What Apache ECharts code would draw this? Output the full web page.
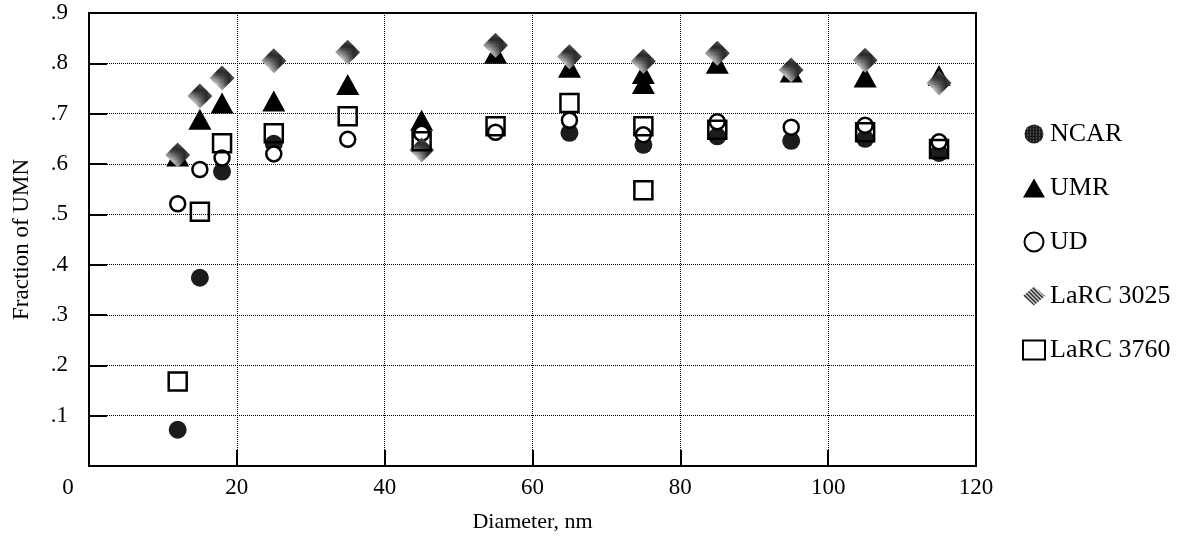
<!DOCTYPE html>
<html>
<head>
<meta charset="utf-8">
<script src="https://cdn.jsdelivr.net/npm/echarts@6/dist/echarts.min.js"></script>
<style>
  html, body { margin: 0; padding: 0; background: #fff; }
  #main { width: 1185px; height: 538px; }
</style>
</head>
<body>
<div id="main"></div>
<script>
// diameters (nm) and fraction of UMN
const ncarD = [12, 15, 18, 25, 65, 75, 85, 95, 105, 115];
const ncarF = [0.072, 0.374, 0.585, 0.64, 0.662, 0.638, 0.655, 0.646, 0.65, 0.622];

const umrD = [12, 15, 18, 25, 35, 45, 55, 65, 75, 75, 85, 95, 105, 115];
const umrF = [0.616, 0.689, 0.721, 0.725, 0.758, 0.687, 0.82, 0.792, 0.78, 0.76, 0.8, 0.783, 0.773, 0.776];

const udD = [12, 15, 18, 25, 35, 45, 55, 65, 75, 85, 95, 105, 115];
const udF = [0.521, 0.589, 0.612, 0.62, 0.649, 0.661, 0.663, 0.687, 0.658, 0.684, 0.673, 0.677, 0.644];

const l3025D = [12, 15, 18, 25, 35, 45, 55, 65, 75, 85, 95, 105, 115];
const l3025F = [0.618, 0.735, 0.771, 0.805, 0.822, 0.628, 0.836, 0.813, 0.804, 0.82, 0.787, 0.806, 0.761];

const l3760D = [12, 15, 18, 25, 35, 45, 55, 65, 75, 75, 85, 105, 115];
const l3760F = [0.168, 0.505, 0.641, 0.661, 0.695, 0.645, 0.675, 0.721, 0.675, 0.548, 0.668, 0.663, 0.63];

const xTicks = [0, 20, 40, 60, 80, 100, 120];

function zip(xs, ys) {
  return xs.map((x, i) => [x, ys[i]]);
}

// small fill patterns: stipple for NCAR, diagonal hatch for LaRC 3025
function stipple() {
  const c = document.createElement('canvas');
  c.width = 3; c.height = 3;
  const g = c.getContext('2d');
  g.fillStyle = '#1c1c1c';
  g.fillRect(0, 0, 3, 3);
  g.fillStyle = '#8a8a8a';
  g.fillRect(1, 1, 1, 1);
  return c;
}
function hatch() {
  const c = document.createElement('canvas');
  c.width = 4; c.height = 4;
  const g = c.getContext('2d');
  g.fillStyle = '#d0d0d0';
  g.fillRect(0, 0, 4, 4);
  g.fillStyle = '#2a2a2a';
  for (let i = 0; i < 4; i++) {
    g.fillRect(i, i, 1, 1);
    g.fillRect((i + 1) % 4, i, 1, 1);
  }
  return c;
}

const font = 'Liberation Serif';
const chart = echarts.init(document.getElementById('main'));

const option = {
  animation: false,
  textStyle: { fontFamily: font, color: '#000' },
  grid: {
    left: 89, right: 209, top: 13, bottom: 72,
    show: true, borderColor: '#000', borderWidth: 2
  },
  legend: {
    orient: 'vertical',
    left: 1017,
    top: 116,
    itemWidth: 22,
    itemHeight: 19,
    itemGap: 28,
    textStyle: { fontFamily: font, fontSize: 26, color: '#000', lineHeight: 26 },
    data: ['NCAR', 'UMR', 'UD', 'LaRC 3025', 'LaRC 3760']
  },
  xAxis: {
    type: 'value',
    min: 0, max: 120, interval: 20,
    name: 'Diameter, nm',
    nameLocation: 'middle',
    nameGap: 45,
    nameTextStyle: { fontFamily: font, fontSize: 22, color: '#000' },
    axisLine: { lineStyle: { color: '#000', width: 2 } },
    axisTick: { inside: true, length: 16, lineStyle: { color: '#000', width: 2 } },
    axisLabel: {
      fontFamily: font, fontSize: 23, color: '#000', margin: 10,
      formatter: v => (xTicks.indexOf(v) === 0 ? '{z|0}' : String(v)),
      rich: { z: { fontFamily: font, fontSize: 23, color: '#000', padding: [0, 42, 0, 0] } }
    },
    splitLine: { show: true, lineStyle: { color: '#000', type: [1, 1], width: 1 } }
  },
  yAxis: {
    type: 'value',
    min: 0, max: 0.9, interval: 0.1,
    name: 'Fraction of UMN',
    nameLocation: 'middle',
    nameGap: 56,
    nameTextStyle: { fontFamily: font, fontSize: 23, color: '#000' },
    axisLine: { lineStyle: { color: '#000', width: 2 } },
    axisTick: { inside: true, length: 18, lineStyle: { color: '#000', width: 2 } },
    axisLabel: {
      fontFamily: font, fontSize: 23, color: '#000', margin: 21,
      formatter: v => (v === 0 ? '' : v.toFixed(1).replace('0.', '.'))
    },
    splitLine: { show: true, lineStyle: { color: '#000', type: [1, 1], width: 1 } }
  },
  series: [
    {
      name: 'NCAR', type: 'scatter', data: zip(ncarD, ncarF),
      symbol: 'circle', symbolSize: 18,
      itemStyle: { color: { image: stipple(), repeat: 'repeat' }, opacity: 1 }
    },
    {
      name: 'UMR', type: 'scatter', data: zip(umrD, umrF),
      symbol: 'triangle', symbolSize: [23, 21],
      itemStyle: { color: '#000', opacity: 1 }
    },
    {
      name: 'UD', type: 'scatter', data: zip(udD, udF),
      symbol: 'circle', symbolSize: 15,
      itemStyle: { color: '#fff', borderColor: '#000', borderWidth: 2.5, opacity: 1 }
    },
    {
      name: 'LaRC 3025', type: 'scatter', data: zip(l3025D, l3025F),
      symbol: 'diamond', symbolSize: [25, 25],
      itemStyle: { color: { image: hatch(), repeat: 'repeat' }, opacity: 1 }
    },
    {
      name: 'LaRC 3760', type: 'scatter', data: zip(l3760D, l3760F),
      symbol: 'rect', symbolSize: 18,
      itemStyle: { color: 'rgba(255,255,255,0)', borderColor: '#000', borderWidth: 2.5, opacity: 1 }
    }
  ]
};

chart.setOption(option);
</script>
</body>
</html>
